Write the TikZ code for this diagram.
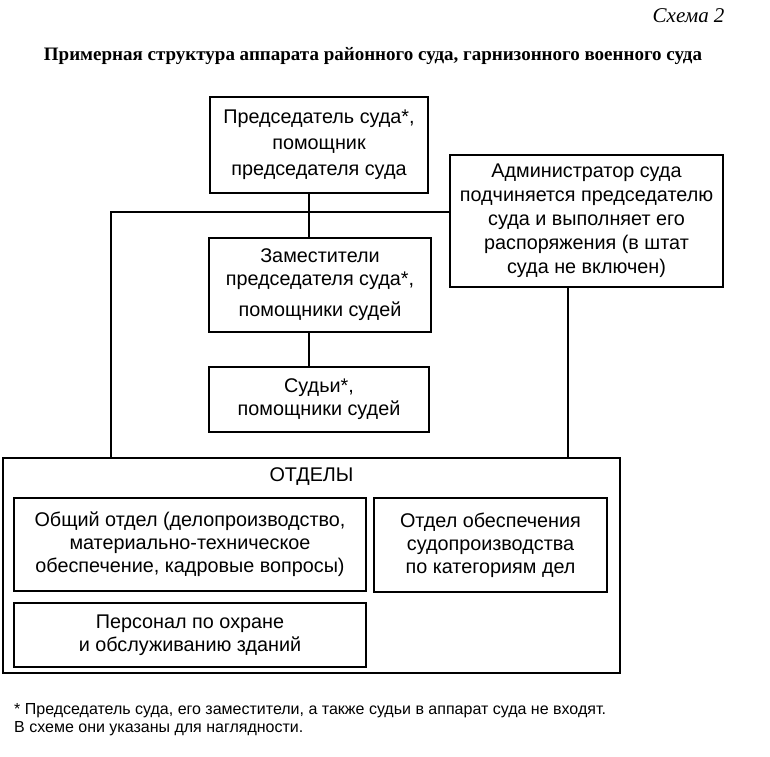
\documentclass[tikz,border=0pt]{standalone}
\usepackage{fontspec}
\setmainfont{Liberation Serif}
\setsansfont{Liberation Sans}
\usetikzlibrary{positioning}
\tikzset{
    unit/.style = {
        draw,
        line width=1.2pt,
        align=center,
        inner sep=0pt,
        font=\sffamily\fontsize{19.8}{23}\selectfont,
        },
    dept/.style = {
        unit,
        minimum width=352pt,
        },
    link/.style = {
        line width=1.2pt,
        },
    note/.style = {
        align=left,
        inner sep=0pt,
        font=\sffamily\fontsize{16}{18}\selectfont,
        },
}

\begin{document}
\begin{tikzpicture}[x=1pt,y=-1pt]
    \useasboundingbox (0,0) rectangle (770,756);
    % heading
    \node[anchor=east, font=\itshape\fontsize{21}{24}\selectfont] (scheme) at (728,16) {Схема 2};
    \node[font=\bfseries\fontsize{19}{22}\selectfont] (title) at (373,56) {Примерная структура аппарата районного суда, гарнизонного военного суда};

    % court officials
    \node[unit, minimum width=218pt, minimum height=96pt, font=\sffamily\fontsize{19.8}{26}\selectfont] (chair) at (319,145) {Председатель суда*,\\помощник\\председателя суда};
    \node[unit, minimum width=273pt, minimum height=132pt, font=\sffamily\fontsize{19.8}{24}\selectfont] (admin) at (586.5,221) {Администратор суда\\подчиняется председателю\\суда и выполняет его\\распоряжения (в штат\\суда не включен)};
    \node[unit, minimum width=222pt, minimum height=94pt] (deputies) at (320,285) {Заместители\\председателя суда*,\\[8pt]помощники судей};
    \node[unit, minimum width=220pt, minimum height=65pt] (judges) at (319,399.5) {Судьи*,\\помощники судей};

    % departments
    \node[unit, minimum width=617pt, minimum height=215pt] (depts) at (311.5,565.5) {};
    \node[font=\sffamily\fontsize{19.8}{23}\selectfont, below=7pt of depts.north] (depts title) {ОТДЕЛЫ};
    \node[dept, minimum height=93pt] (general) at (190,544.5) {Общий отдел (делопроизводство,\\материально-техническое\\обеспечение, кадровые вопросы)};
    \node[unit, minimum width=233pt, minimum height=94pt] (cases) at (490.5,545) {Отдел обеспечения\\судопроизводства\\по категориям дел};
    \node[dept, minimum height=64pt] (staff) at (190,635) {Персонал по охране\\и обслуживанию зданий};

    % branch points
    \coordinate (trunk) at (309,212);
    \coordinate (left drop) at (111,212);
    \coordinate (admin drop) at (568,458);

    \draw[link] (chair.south -| trunk) -- (deputies.north -| trunk);
    \draw[link] (deputies.south -| trunk) -- (judges.north -| trunk);
    \draw[link] (admin.west |- trunk) -- (left drop) -- (left drop |- depts.north);
    \draw[link] (admin.south -| admin drop) -- (depts.north -| admin drop);

    % footnote
    \node[note, anchor=north west] (footnote) at (14,703) {* Председатель суда, его заместители, а также судьи в аппарат суда не входят.\\В схеме они указаны для наглядности.};
\end{tikzpicture}
\end{document}
